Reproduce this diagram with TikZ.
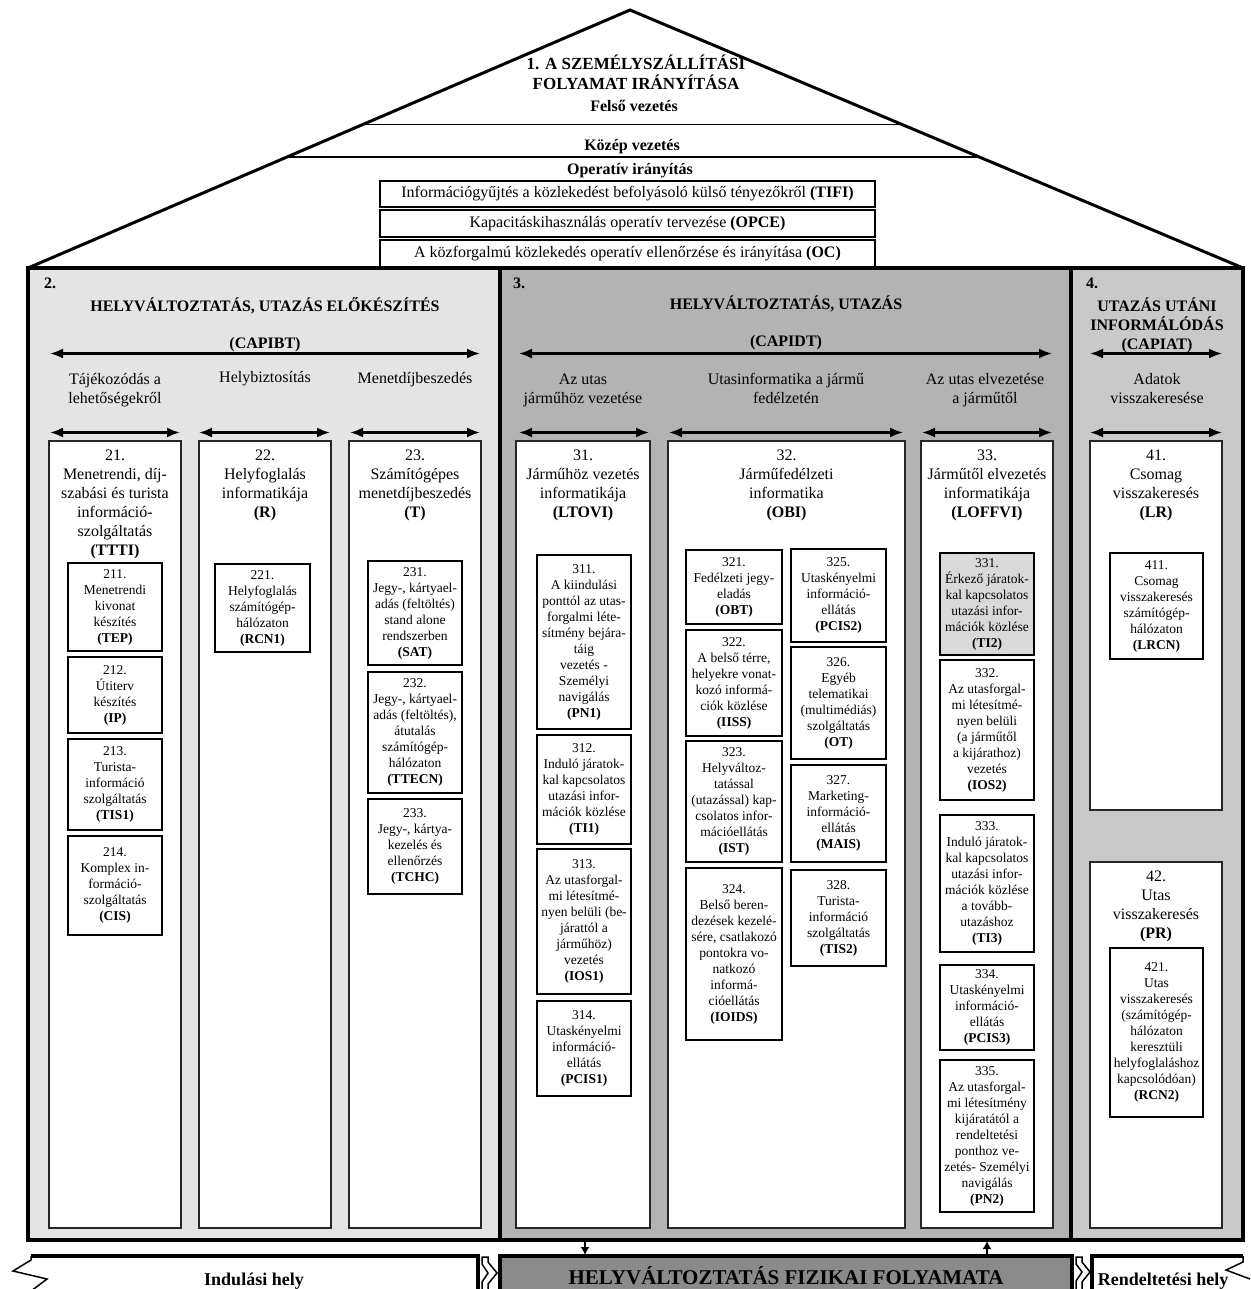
\documentclass[tikz,border=0pt]{standalone}
\usepackage{fontspec}
\setmainfont{Liberation Serif}
\usetikzlibrary{arrows.meta,calc}
\definecolor{colA}{HTML}{E4E4E4}
\definecolor{colB}{HTML}{B3B3B3}
\definecolor{colC}{HTML}{C9C9C9}
\definecolor{colD}{HTML}{D9D9D9}
\definecolor{colE}{HTML}{8A8A8A}
\tikzset{
  lbl/.style={font=\fontsize{16}{19}\selectfont, align=center, inner sep=0pt},
  blbl/.style={font=\bfseries\fontsize{16}{19.5}\selectfont, align=center, inner sep=0pt},
  panel/.style={draw, line width=4pt, inner sep=0pt, outer sep=0pt},
  colbox/.style={draw=black!85, line width=1.6pt, fill=white, inner sep=0pt, outer sep=0pt},
  subbox/.style={draw, line width=2pt, fill=white, align=center, inner sep=0pt, outer sep=0pt,
                 font=\fontsize{13.5}{16}\selectfont},
  roofbox/.style={draw, line width=1.5pt, fill=white, inner sep=0pt, outer sep=0pt,
                 font=\fontsize{16}{19}\selectfont},
  dbl/.style={{Latex[length=13pt,width=10pt]}-{Latex[length=13pt,width=10pt]}, line width=2.2pt},
  sarrow/.style={-{Latex[length=8pt,width=9pt]}, line width=2.5pt},
  bandlbl/.style={font=\bfseries\fontsize{18}{20}\selectfont, inner sep=0pt},
  joint/.style={draw, line width=1.5pt, fill=white, line join=miter},
}
\newcommand\Rbox[7][]{\node[subbox,#1, minimum width={#4-#3}, minimum height={#6-#5}] (#2) at ({(#3+#4)/2},{(#5+#6)/2}) {#7};}
\newcommand\Cbox[5]{\node[colbox, minimum width={#3-#2}, minimum height={#5-#4}] (#1) at ({(#2+#3)/2},{(#4+#5)/2}) {};}
\newcommand\st{\rule{0pt}{12pt}}
\begin{document}
\begin{tikzpicture}[x=1pt,y=-1pt]
\useasboundingbox (0,0) rectangle (1250,1289);

% ---------- panels ----------
\node[panel, fill=colA, minimum width=472, minimum height=972] (p2) at (264,754) {};
\node[panel, fill=colB, minimum width=571, minimum height=972] (p3) at (785.5,754) {};
\node[panel, fill=colC, minimum width=172, minimum height=972] (p4) at (1157,754) {};

% ---------- roof ----------
\coordinate (apex) at (630,10);
\coordinate (rl) at (28,268);
\coordinate (rr) at (1243,268);
\draw[line width=3pt, line join=miter] (rl) -- (apex) -- (rr);
\draw[line width=1.5pt] ($(apex)!0.4438!(rl)$) -- ($(apex)!0.4438!(rr)$);
\draw[line width=2.5pt] ($(apex)!0.5698!(rl)$) -- ($(apex)!0.5698!(rr)$);

\node[blbl, anchor=north, font=\bfseries\fontsize{17}{20}\selectfont] (title) at (636,54) {\rule{0pt}{15pt}1. A SZEMÉLYSZÁLLÍTÁSI\\FOLYAMAT IRÁNYÍTÁSA};
\node[blbl, anchor=base] (felso) at (634,112) {Felső vezetés};
\node[blbl, anchor=base] (kozep) at (632,151) {Közép vezetés};
\node[blbl, anchor=base] (operativ) at (630,175) {Operatív irányítás};

\node[roofbox, minimum width=495, minimum height=26] (tifi) at (627.5,194) {Információgyűjtés a közlekedést befolyásoló külső tényezőkről \textbf{(TIFI)}};
\node[roofbox, minimum width=495, minimum height=27] (opce) at (627.5,223.5) {Kapacitáskihasználás operatív tervezése \textbf{(OPCE)}};
\node[roofbox, minimum width=495, minimum height=28] (oc) at (627.5,254) {A közforgalmú közlekedés operatív ellenőrzése és irányítása \textbf{(OC)}};
\draw[line width=4pt] (rl) -- (rr);

% ---------- column titles ----------
\node[blbl, anchor=base west] (n2) at (44,288) {2.};
\node[blbl, anchor=base west] (n3) at (513,288) {3.};
\node[blbl, anchor=base west] (n4) at (1086,288) {4.};

\node[blbl, anchor=base] (t2) at (265,311) {HELYVÁLTOZTATÁS, UTAZÁS ELŐKÉSZÍTÉS};
\node[blbl, anchor=base] (k2) at (265,348) {(CAPIBT)};
\node[blbl, anchor=base] (t3) at (786,309) {HELYVÁLTOZTATÁS, UTAZÁS};
\node[blbl, anchor=base] (k3) at (786,346) {(CAPIDT)};
\node[blbl, anchor=north, font=\bfseries\fontsize{16}{19}\selectfont] (t4) at (1157,296) {\rule{0pt}{15pt}UTAZÁS UTÁNI\\INFORMÁLÓDÁS\\(CAPIAT)};

% first row arrows
\coordinate (a2l) at (50,353.5);  \coordinate (a2r) at (480,353.5);
\coordinate (a3l) at (519,353.5); \coordinate (a3r) at (1052,353.5);
\coordinate (a4l) at (1090,353.5); \coordinate (a4r) at (1222,353.5);
\draw[dbl] (a2l) -- (a2r);
\draw[dbl] (a3l) -- (a3r);
\draw[dbl] (a4l) -- (a4r);

% sub-labels
\node[lbl, anchor=north] (l21) at (115,372) {\st Tájékozódás a\\lehetőségekről};
\node[lbl, anchor=north] (l22) at (265,370) {\st Helybiztosítás};
\node[lbl, anchor=north] (l23) at (415,371) {\st Menetdíjbeszedés};
\node[lbl, anchor=north] (l31) at (583,372) {\st Az utas\\járműhöz vezetése};
\node[lbl, anchor=north] (l32) at (786,372) {\st Utasinformatika a jármű\\fedélzetén};
\node[lbl, anchor=north] (l33) at (985,372) {\st Az utas elvezetése\\a járműtől};
\node[lbl, anchor=north] (l41) at (1157,372) {\st Adatok\\visszakeresése};

% second row arrows
\coordinate (b21l) at (50,432.5);  \coordinate (b21r) at (180,432.5);
\coordinate (b22l) at (199,432.5); \coordinate (b22r) at (330,432.5);
\coordinate (b23l) at (350,432.5); \coordinate (b23r) at (480,432.5);
\coordinate (b31l) at (519,432.5); \coordinate (b31r) at (649,432.5);
\coordinate (b32l) at (669,432.5); \coordinate (b32r) at (903,432.5);
\coordinate (b33l) at (922,432.5); \coordinate (b33r) at (1052,432.5);
\coordinate (b41l) at (1090,432.5); \coordinate (b41r) at (1222,432.5);
\foreach \p in {b21,b22,b23,b31,b32,b33,b41} \draw[dbl] (\p l) -- (\p r);

% ---------- column boxes ----------
\Cbox{c21}{49}{181}{441}{1228}
\Cbox{c22}{199}{331}{441}{1228}
\Cbox{c23}{349}{481}{441}{1228}
\Cbox{c31}{516}{650}{441}{1228}
\Cbox{c32}{668}{905}{441}{1228}
\Cbox{c33}{921}{1053}{441}{1228}
\Cbox{c41}{1090}{1222}{441}{810}
\Cbox{c42}{1090}{1222}{862}{1228}

\node[lbl, anchor=north] (h21) at ([yshift=-7pt]c21.north) {\st 21.\\Menetrendi, díj-\\szabási és turista\\információ-\\szolgáltatás\\\textbf{(TTTI)}};
\node[lbl, anchor=north] (h22) at ([yshift=-7pt]c22.north) {\st 22.\\Helyfoglalás\\informatikája\\\textbf{(R)}};
\node[lbl, anchor=north] (h23) at ([yshift=-7pt]c23.north) {\st 23.\\Számítógépes\\menetdíjbeszedés\\\textbf{(T)}};
\node[lbl, anchor=north] (h31) at ([yshift=-7pt]c31.north) {\st 31.\\Járműhöz vezetés\\informatikája\\\textbf{(LTOVI)}};
\node[lbl, anchor=north] (h32) at ([yshift=-7pt]c32.north) {\st 32.\\Járműfedélzeti\\informatika\\\textbf{(OBI)}};
\node[lbl, anchor=north] (h33) at ([yshift=-7pt]c33.north) {\st 33.\\Járműtől elvezetés\\informatikája\\\textbf{(LOFFVI)}};
\node[lbl, anchor=north] (h41) at ([yshift=-7pt]c41.north) {\st 41.\\Csomag\\visszakeresés\\\textbf{(LR)}};
\node[lbl, anchor=north] (h42) at ([yshift=-7pt]c42.north) {\st 42.\\Utas\\visszakeresés\\\textbf{(PR)}};

% ---------- sub boxes ----------
\Rbox{s211}{68}{162}{563}{651}{211.\\Menetrendi\\kivonat\\készítés\\\textbf{(TEP)}}
\Rbox{s212}{68}{162}{657}{733}{212.\\Útiterv\\készítés\\\textbf{(IP)}}
\Rbox{s213}{68}{162}{739}{830}{213.\\Turista-\\információ\\szolgáltatás\\\textbf{(TIS1)}}
\Rbox{s214}{68}{162}{836}{935}{214.\\Komplex in-\\formáció-\\szolgáltatás\\\textbf{(CIS)}}
\Rbox{s221}{215}{310}{564}{652}{221.\\Helyfoglalás\\számítógép-\\hálózaton\\\textbf{(RCN1)}}
\Rbox{s231}{368}{462}{561}{665}{231.\\Jegy-, kártyael-\\adás (feltöltés)\\stand alone\\rendszerben\\\textbf{(SAT)}}
\Rbox{s232}{368}{462}{672}{793}{232.\\Jegy-, kártyael-\\adás (feltöltés),\\átutalás\\számítógép-\\hálózaton\\\textbf{(TTECN)}}
\Rbox{s233}{368}{462}{799}{894}{233.\\Jegy-, kártya-\\kezelés és\\ellenőrzés\\\textbf{(TCHC)}}

\Rbox{s311}{537}{631}{555}{729}{311.\\A kiindulási\\ponttól az utas-\\forgalmi léte-\\sítmény bejára-\\táig\\vezetés -\\Személyi\\navigálás\\\textbf{(PN1)}}
\Rbox{s312}{537}{631}{735}{844}{312.\\Induló járatok-\\kal kapcsolatos\\utazási infor-\\mációk közlése\\\textbf{(TI1)}}
\Rbox{s313}{537}{631}{849}{994}{313.\\Az utasforgal-\\mi létesítmé-\\nyen belüli (be-\\járattól a\\járműhöz)\\vezetés\\\textbf{(IOS1)}}
\Rbox{s314}{537}{631}{1001}{1096}{314.\\Utaskényelmi\\információ-\\ellátás\\\textbf{(PCIS1)}}

\Rbox{s321}{686}{782}{550}{624}{321.\\Fedélzeti jegy-\\eladás\\\textbf{(OBT)}}
\Rbox{s322}{686}{782}{630}{736}{322.\\A belső térre,\\helyekre vonat-\\kozó informá-\\ciók közlése\\\textbf{(IISS)}}
\Rbox{s323}{686}{782}{741}{862}{323.\\Helyváltoz-\\tatással\\(utazással) kap-\\csolatos infor-\\mációellátás\\\textbf{(IST)}}
\Rbox{s324}{686}{782}{868}{1040}{324.\\Belső beren-\\dezések kezelé-\\sére, csatlakozó\\pontokra vo-\\natkozó\\informá-\\cióellátás\\\textbf{(IOIDS)}}
\Rbox{s325}{791}{886}{549}{642}{325.\\Utaskényelmi\\információ-\\ellátás\\\textbf{(PCIS2)}}
\Rbox{s326}{791}{886}{647}{759}{326.\\Egyéb\\telematikai\\(multimédiás)\\szolgáltatás\\\textbf{(OT)}}
\Rbox{s327}{791}{886}{765}{862}{327.\\Marketing-\\információ-\\ellátás\\\textbf{(MAIS)}}
\Rbox{s328}{791}{886}{870}{966}{328.\\Turista-\\információ\\szolgáltatás\\\textbf{(TIS2)}}

\Rbox[fill=colD]{s331}{940}{1034}{553}{655}{331.\\Érkező járatok-\\kal kapcsolatos\\utazási infor-\\mációk közlése\\\textbf{(TI2)}}
\Rbox{s332}{940}{1034}{660}{800}{332.\\Az utasforgal-\\mi létesítmé-\\nyen belüli\\(a járműtől\\a kijárathoz)\\vezetés\\\textbf{(IOS2)}}
\Rbox{s333}{940}{1034}{815}{952}{333.\\Induló járatok-\\kal kapcsolatos\\utazási infor-\\mációk közlése\\a tovább-\\utazáshoz\\\textbf{(TI3)}}
\Rbox{s334}{940}{1034}{965}{1050}{334.\\Utaskényelmi\\információ-\\ellátás\\\textbf{(PCIS3)}}
\Rbox{s335}{940}{1034}{1060}{1212}{335.\\Az utasforgal-\\mi létesítmény\\kijáratától a\\rendeltetési\\ponthoz ve-\\zetés- Személyi\\navigálás\\\textbf{(PN2)}}

\Rbox{s411}{1110}{1203}{553}{659}{411.\\Csomag\\visszakeresés\\számítógép-\\hálózaton\\\textbf{(LRCN)}}
\Rbox{s421}{1110}{1203}{948}{1117}{421.\\Utas\\visszakeresés\\(számítógép-\\hálózaton\\keresztüli\\helyfoglaláshoz\\kapcsolódóan)\\\textbf{(RCN2)}}

% ---------- bottom band ----------
\node[draw, line width=4pt, fill=colE, inner sep=0pt, outer sep=0pt, minimum width=572, minimum height=40,
      font=\bfseries\fontsize{21}{25}\selectfont] (phys) at (786,1276) {HELYVÁLTOZTATÁS FIZIKAI FOLYAMATA};

\draw[line width=4pt] (31,1256) -- (478,1256) -- (478,1292);
\draw[line width=1.5pt] (31,1256) -- (31,1260) -- (13,1271) -- (47,1279) -- (31,1291);
\node[bandlbl, anchor=base] (dep) at (254,1285) {Indulási hely};

\draw[joint] (482,1257) -- (488,1257) -- (488,1262) -- (497,1273) -- (488,1284) -- (488,1291) -- (482,1291) -- (482,1282) -- (488,1273) -- (482,1264) -- cycle;
\draw[joint] (1076,1257) -- (1082,1257) -- (1082,1262) -- (1090,1272) -- (1082,1282) -- (1082,1291) -- (1076,1291) -- (1076,1281) -- (1082,1272) -- (1076,1264) -- cycle;

\draw[line width=4pt] (1092,1292) -- (1092,1256) -- (1243,1256);
\draw[line width=1.5pt] (1243,1256) -- (1243,1262) -- (1226,1270) -- (1250,1279);
\node[bandlbl, anchor=base] (arr) at (1163,1285) {Rendeltetési hely};

\coordinate (dn1) at (585,1241); \coordinate (dn2) at (585,1255);
\coordinate (up1) at (987,1255); \coordinate (up2) at (987,1241);
\draw[sarrow] (dn1) -- (dn2);
\draw[sarrow] (up1) -- (up2);
\end{tikzpicture}
\end{document}
